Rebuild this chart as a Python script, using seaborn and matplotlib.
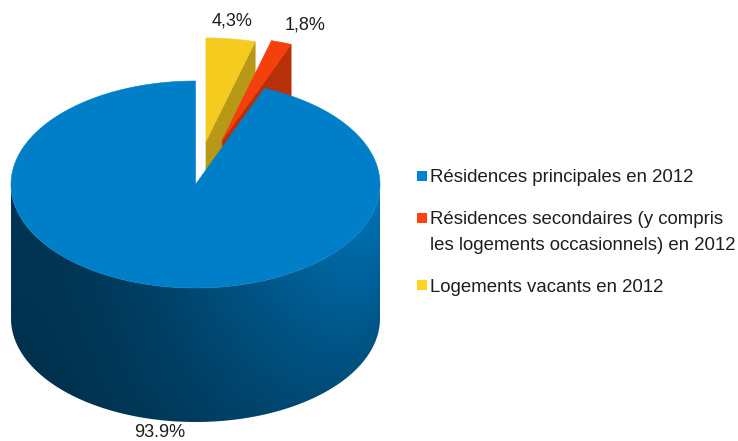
import numpy as np
import matplotlib
matplotlib.use("Agg")
import matplotlib.pyplot as plt
from matplotlib.patches import Polygon, Rectangle
from matplotlib.colors import to_rgb
import seaborn as sns

# Housing stock, 2012
categories = [
    "Résidences principales en 2012",
    "Résidences secondaires (y compris\nles logements occasionnels) en 2012",
    "Logements vacants en 2012",
]
shares = [93.9, 1.8, 4.3]
value_labels = ["93.9%", "1,8%", "4,3%"]
explode = [0.0, 0.45, 0.42]
palette = sns.color_palette(["#0084d1", "#ff420e", "#ffd320"])

sns.set_theme(style="white")
plt.rcParams["font.family"] = ["Liberation Sans", "DejaVu Sans"]
TEXT = "#1e1e1e"

W, H = 738, 441
fig = plt.figure(figsize=(W / 100, H / 100), dpi=100)
ax = fig.add_axes([0, 0, 1, 1])

# 3D pie geometry (screen units, y pointing down)
cx, cy, rx, ry, depth = 195.5, 184.5, 184.5, 103.5, 134.0

fracs = np.array(shares) / np.sum(shares)
starts = 90 + 360 * np.concatenate([[0], np.cumsum(fracs)[:-1]])
ends = starts + 360 * fracs
mids = (starts + ends) / 2


def arc(ox, oy, a0, a1, z=0.0, n=200):
    t = np.radians(np.linspace(a0, a1, n))
    return np.column_stack([ox + rx * np.cos(t), oy - ry * np.sin(t) + z])


def shade(color, f):
    return tuple(np.clip(np.array(to_rgb(color)) * f, 0, 1))


gx, gy = np.meshgrid(np.arange(W) + 0.5, np.arange(H) + 0.5)


def wall_gradient(color, ox, oy):
    """Side-wall lighting: brightest at the upper right, darkest lower left."""
    u = np.clip((gx - (ox - rx)) / (2 * rx), 0, 1)
    q = np.clip((gx - ox) / rx, -1, 1)
    ytop = oy + ry * np.sqrt(1 - q ** 2)
    t = np.clip((gy - ytop) / depth, 0, 1)
    s = 0.05 + 0.85 * u ** 1.3 * (1 - 0.45 * t) + 0.1 * (1 - u) ** 6 * (1 - 0.3 * t)
    s = np.clip(s, 0, 1)[..., None]
    dark = np.array(shade(color, 0.31))
    light = np.array(shade(color, 0.92))
    return dark + s * (light - dark)


order = np.argsort(-np.sin(np.radians(mids)))  # back slices first
z = 1
for i in order:
    col = palette[i]
    a, b, m = starts[i], ends[i], mids[i]
    ox = cx + explode[i] * rx * np.cos(np.radians(m))
    oy = cy - explode[i] * ry * np.sin(np.radians(m))
    apex = np.array([ox, oy])

    # radial cut faces that face the viewer
    for ang, sign in ((a, 1), (b, -1)):
        if sign * np.cos(np.radians(ang)) > 1e-6:
            p_top = arc(ox, oy, ang, ang, n=1)[0]
            face = np.array([apex, p_top, p_top + [0, depth], apex + [0, depth]])
            fc = shade(col, 0.72)
            ax.add_patch(Polygon(face, closed=True, facecolor=fc, edgecolor=fc,
                                 lw=0.4, zorder=z))
            z += 1

    # outer wall, front half only
    for k in (0, 360):
        lo2, hi2 = max(a, 180.0 + k), min(b, 360.0 + k)
        if hi2 > lo2:
            top = arc(ox, oy, lo2, hi2)
            bot = arc(ox, oy, hi2, lo2, z=depth)
            wall = Polygon(np.vstack([top, bot]), closed=True, facecolor="none",
                           edgecolor="none", zorder=z)
            ax.add_patch(wall)
            im = ax.imshow(wall_gradient(col, ox, oy), extent=(0, W, H, 0),
                           interpolation="bilinear", zorder=z)
            im.set_clip_path(wall)
            z += 1

    # top face
    top_face = np.vstack([apex, arc(ox, oy, a, b, n=400)])
    fc = shade(col, 0.96)
    ax.add_patch(Polygon(top_face, closed=True, facecolor=fc, edgecolor=fc,
                         lw=0.4, zorder=z))
    z += 1

    # value label placed just outside the slice
    c, s = np.cos(np.radians(m)), np.sin(np.radians(m))
    if s > 0:
        px, py = ox + rx * c, oy - ry * s
        gap = 9
    else:
        px, py = ox + rx * c, oy - ry * s + depth
        gap = 4
    px += gap * c
    py -= gap * s
    ha = "left" if c > 0.25 else ("right" if c < -0.25 else "center")
    va = "bottom" if s > 0 else "top"
    ax.text(px, py, value_labels[i], ha=ha, va=va, fontsize=13, color=TEXT,
            zorder=50)

# legend
legend_x, legend_rows = 417, [176, 218, 285]
line_gap = 25
for i, label in enumerate(categories):
    y0 = legend_rows[i]
    ax.add_patch(Rectangle((legend_x, y0 - 5), 10, 10, facecolor=palette[i],
                           edgecolor="none", zorder=50))
    for j, line in enumerate(label.split("\n")):
        ax.text(legend_x + 13, y0 + j * line_gap, line, ha="left",
                va="center_baseline", fontsize=13.4, color=TEXT, zorder=50)

ax.set_xlim(0, W)
ax.set_ylim(H, 0)
ax.set_aspect("auto")
ax.axis("off")
fig.savefig("out.png", dpi=100, facecolor="white")
